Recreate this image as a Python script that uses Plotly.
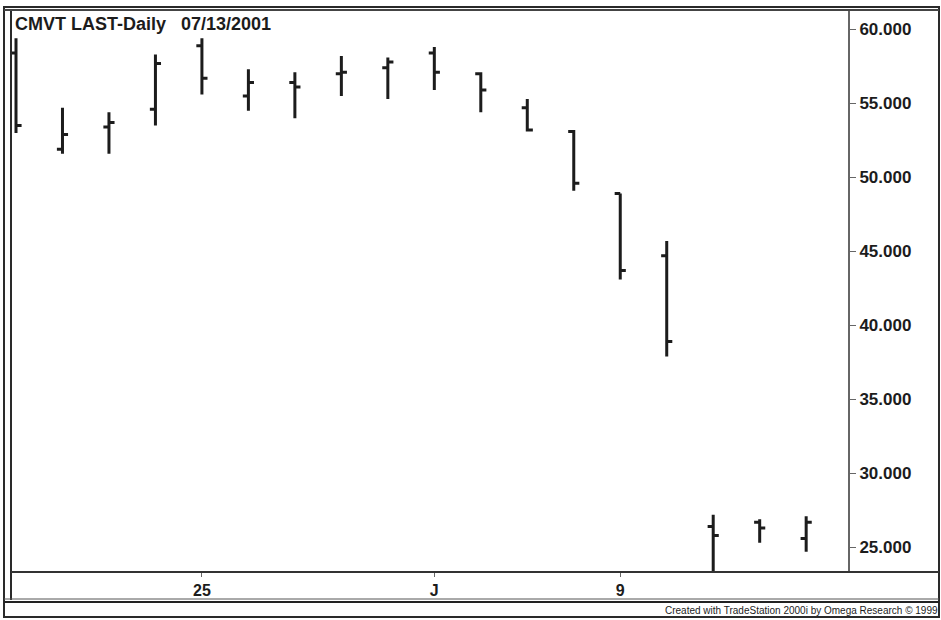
import plotly.graph_objects as go

# ---- data ----
dates = ["2001-06-19", "2001-06-20", "2001-06-21", "2001-06-22", "2001-06-25",
         "2001-06-26", "2001-06-27", "2001-06-28", "2001-06-29", "2001-07-02",
         "2001-07-03", "2001-07-05", "2001-07-06", "2001-07-09", "2001-07-10",
         "2001-07-11", "2001-07-12", "2001-07-13"]
opens = [58.4, 51.9, 53.4, 54.6, 58.9, 55.5, 56.4, 57.0, 57.4, 58.4,
         57.0, 54.7, 53.1, 48.9, 44.7, 26.4, 26.7, 25.6]
highs = [59.4, 54.7, 54.4, 58.3, 59.4, 57.3, 57.1, 58.2, 58.1, 58.8,
         57.1, 55.3, 53.2, 48.9, 45.7, 27.2, 26.9, 27.1]
lows = [53.0, 51.6, 51.6, 53.5, 55.6, 54.5, 54.0, 55.5, 55.3, 55.9,
        54.4, 53.1, 49.1, 43.1, 37.9, 23.0, 25.3, 24.7]
closes = [53.5, 52.9, 53.7, 57.7, 56.7, 56.4, 56.1, 57.1, 57.8, 57.1,
          55.9, 53.2, 49.6, 43.7, 38.9, 25.8, 26.3, 26.7]
x_tick_dates = ["2001-06-25", "2001-07-02", "2001-07-09"]
x_tick_labels = ["25", "J", "9"]
y_ticks = [25, 30, 35, 40, 45, 50, 55, 60]

xpos = list(range(len(dates)))
tickpos = [dates.index(d) for d in x_tick_dates]

W, H = 941, 620
L, R, T, B = 12, 848, 11, 572  # plot area in pixels


def px(x):
    return (x - L) / (R - L)


def py(y):
    return (B - y) / (B - T)


fig = go.Figure(go.Ohlc(
    x=xpos, open=opens, high=highs, low=lows, close=closes,
    increasing=dict(line=dict(color="#1c1c1c", width=3)),
    decreasing=dict(line=dict(color="#1c1c1c", width=3)),
    tickwidth=0.12, hoverinfo="skip", showlegend=False,
))

font_family = "Liberation Sans, Arial, sans-serif"

fig.update_layout(
    width=W, height=H,
    margin=dict(l=L, r=W - R, t=T, b=H - B, pad=0),
    paper_bgcolor="white", plot_bgcolor="white",
    font=dict(family=font_family, color="#1c1c1c"),
    xaxis=dict(
        range=[-0.086, 17.9], rangeslider=dict(visible=False),
        showgrid=False, zeroline=False, showline=False,
        tickmode="array", tickvals=tickpos, ticktext=x_tick_labels,
        ticks="outside", ticklen=4, tickcolor="#666", tickwidth=1,
        tickfont=dict(size=16, weight="bold", family=font_family, color="#1c1c1c"),
        fixedrange=True,
    ),
    yaxis=dict(
        range=[23.33, 61.24], side="right",
        showgrid=False, zeroline=False, showline=True,
        linecolor="#666", linewidth=2,
        tickmode="array", tickvals=y_ticks,
        ticktext=[f"{v:.3f}" for v in y_ticks],
        ticks="outside", ticklen=6, tickcolor="#666", tickwidth=1,
        tickfont=dict(size=17, weight="bold", family=font_family, color="#1c1c1c"),
        fixedrange=True,
    ),
)

shapes = []
# outer frame
shapes.append(dict(type="rect", xref="paper", yref="paper",
                   x0=px(4), x1=px(939), y0=py(617), y1=py(7),
                   line=dict(color="#2a2a2a", width=2)))
# inner left double line
shapes.append(dict(type="line", xref="paper", yref="paper",
                   x0=px(11), x1=px(11), y0=py(600), y1=py(9),
                   line=dict(color="#2a2a2a", width=2)))
# top thick line
shapes.append(dict(type="line", xref="paper", yref="paper",
                   x0=px(4), x1=px(939), y0=py(10), y1=py(10),
                   line=dict(color="#444", width=2)))
# plot bottom line
shapes.append(dict(type="line", xref="paper", yref="paper",
                   x0=px(11), x1=px(939), y0=py(572), y1=py(572),
                   line=dict(color="#333", width=2)))
# axis band bottom (double)
shapes.append(dict(type="line", xref="paper", yref="paper",
                   x0=px(4), x1=px(939), y0=py(599), y1=py(599),
                   line=dict(color="#555", width=1)))
shapes.append(dict(type="line", xref="paper", yref="paper",
                   x0=px(4), x1=px(939), y0=py(602), y1=py(602),
                   line=dict(color="#222", width=2)))
fig.update_layout(shapes=shapes)

fig.add_annotation(
    text="CMVT LAST-Daily   07/13/2001", xref="paper", yref="paper",
    x=px(13), y=py(12), xanchor="left", yanchor="top", showarrow=False,
    font=dict(size=18, weight="bold", family=font_family, color="#1c1c1c"),
)
fig.add_annotation(
    text="Created with TradeStation 2000i by Omega Research © 1999",
    xref="paper", yref="paper",
    x=px(940), y=py(610), xanchor="right", yanchor="middle", showarrow=False,
    font=dict(size=10, family="Liberation Sans Narrow, Liberation Sans, Arial", color="#1c1c1c"),
)

fig.write_html(
    "out.html",
    config={"displayModeBar": False, "staticPlot": True},
    post_script="document.body.style.margin='0px';document.body.style.overflow='hidden';",
)
